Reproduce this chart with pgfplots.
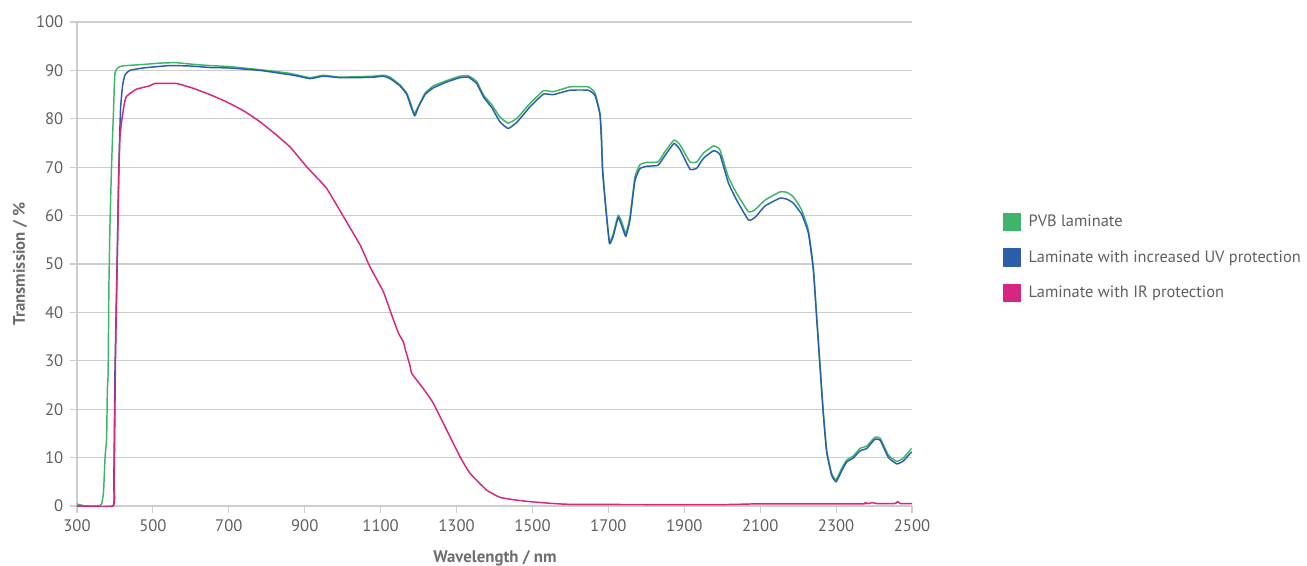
\documentclass[border=0pt]{standalone}
\usepackage{pgfplots}
\pgfplotsset{compat=1.18}
\usepackage{fontspec}
\setmainfont{PT Sans}

\definecolor{pvbgreen}{RGB}{61,181,107}
\definecolor{uvblue}{RGB}{43,94,170}
\definecolor{irpink}{RGB}{214,38,130}
\definecolor{txtgray}{RGB}{95,95,95}
\definecolor{lblgray}{RGB}{110,110,110}
\definecolor{gridgray}{RGB}{205,205,205}

\begin{document}
\begin{tikzpicture}
\path[use as bounding box] (-57.75pt,-44.25pt) rectangle (922.5pt,379.5pt);
\begin{axis}[
  at={(0,0)}, anchor=south west,
  scale only axis, width=626.25pt, height=363pt,
  xmin=300, xmax=2500, ymin=0, ymax=100,
  xtick={300,500,...,2500}, ytick={0,10,...,100},
  axis x line=bottom, axis y line=left,
  axis line style={draw=gridgray, line width=0.8pt, -},
  ymajorgrids, grid style={gridgray, line width=0.8pt},
  tick style={gridgray, line width=0.8pt}, tick align=outside,
  major tick length=5.25pt,
  ticklabel style={font=\fontsize{12.5}{15}\selectfont, text=txtgray},
  /pgf/number format/assume math mode=true,
  /pgf/number format/1000 sep={},
  xticklabel style={yshift=-1.5pt},
  yticklabel style={xshift=-1.5pt},
  xlabel={Wavelength / nm}, ylabel={Transmission / \%},
  label style={font=\bfseries\fontsize{12.6}{15}\selectfont, text=lblgray},
  xlabel style={at={(axis description cs:0.5006,-0.1085)}, anchor=center},
  ylabel style={at={(axis description cs:-0.0683,0.5)}, anchor=center},
  legend style={at={(axis description cs:1.1085,0.607)}, anchor=north west,
    draw=none, fill=none, font=\fontsize{12.3}{15}\selectfont, text=txtgray,
    row sep=12.5pt, inner sep=0pt,
    /tikz/every odd column/.append style={column sep=3.5pt}},
  legend cell align=left,
  legend image code/.code={\fill[#1] (0pt,-6.4pt) rectangle (12.8pt,6.4pt);},
  every axis plot/.append style={line width=1.1pt, line join=round, smooth, tension=0.25},
]
\addplot[color=pvbgreen] coordinates {
(300,0.4) (310,0.2) (320,0.05) (340,0.0) (360,0.1) (365,0.4) (370,3) (374,10.2)
(378,14) (380,24) (382,27.5) (384,45) (387,58.5) (391,70) (394,77) (396,81)
(398,86) (400,89.4) (405,90.3) (413,90.8) (430,91.0) (470,91.2) (518,91.5)
(560,91.6) (600,91.3) (650,91.0) (700,90.8) (750,90.4) (800,90.0) (860,89.4)
(914,88.5) (949,89.0) (993,88.6) (1037,88.7) (1080,88.8) (1107,89.0) (1125,88.6)
(1151,87.0) (1169,85.3) (1180,83) (1188,81.1) (1199,82.5) (1217,85.3) (1239,86.8)
(1274,87.9) (1309,88.8) (1331,88.9) (1353,87.7) (1371,84.9) (1393,82.9) (1414,80.4)
(1436,79.1) (1459,80.1) (1494,83.2) (1529,85.8) (1555,85.6) (1599,86.6) (1647,86.6)
(1665,85.3) (1678,81.1) (1682,75.6) (1685,69.4) (1694,61.2) (1703,54.6) (1713,56.3)
(1726,60.1) (1735,58.7) (1746,56.3) (1757,59.8) (1770,68.0) (1783,70.5) (1801,71.0)
(1831,71.1) (1849,73.2) (1873,75.6) (1889,74.6) (1915,71.1) (1933,71.1) (1950,72.9)
(1977,74.4) (1994,73.6) (2016,68.0) (2038,64.6) (2069,60.8) (2086,61.2) (2113,63.2)
(2152,64.9) (2170,64.8) (2187,63.9) (2209,61.2) (2227,57.0) (2240,49.4) (2249,39.1)
(2258,28.8) (2266,19.8) (2275,11.6) (2288,6.8) (2300,5.4) (2315,7.8) (2328,9.5)
(2345,10.3) (2363,11.9) (2381,12.4) (2402,14.2) (2416,14.0) (2438,10.5) (2460,9.2)
(2477,9.9) (2499,11.9)
};
\addlegendentry{PVB laminate}
\addplot[color=uvblue] coordinates {
(300,0) (394,0) (397,5) (400,27.5) (403,40) (406,51.5) (409,65) (411,72) (413,78)
(415,82.5) (420,86.8) (426,89) (439,90) (474,90.5) (545,91) (600,90.9) (650,90.6)
(700,90.5) (782,90) (870,89) (914,88.3) (949,88.8) (993,88.5) (1037,88.5) (1080,88.6)
(1107,88.8) (1125,88.3) (1151,86.8) (1169,85) (1180,82.5) (1190,80.6) (1199,82.3)
(1217,85.0) (1239,86.4) (1274,87.6) (1309,88.5) (1331,88.6) (1353,87.3) (1371,84.5)
(1393,82.3) (1414,79.4) (1436,78.0) (1459,79.3) (1494,82.5) (1529,85.1) (1555,85.0)
(1599,85.9) (1647,85.9) (1665,84.8) (1678,80.8) (1682,75.3) (1685,69.0) (1694,60.8)
(1703,54.2) (1713,55.8) (1726,59.6) (1735,58.0) (1746,55.7) (1757,59.2) (1770,67.2)
(1783,69.7) (1801,70.2) (1831,70.4) (1849,72.4) (1873,74.9) (1889,73.6) (1915,69.6)
(1933,69.8) (1950,71.8) (1977,73.4) (1994,72.6) (2016,66.8) (2038,63.2) (2069,59.1)
(2086,59.6) (2113,62.0) (2152,63.6) (2170,63.4) (2187,62.6) (2209,60.3) (2227,56.4)
(2240,48.8) (2249,38.6) (2258,28.3) (2266,19.3) (2275,11.2) (2288,6.4) (2300,5.0)
(2315,7.3) (2328,9.1) (2345,9.9) (2363,11.4) (2381,11.9) (2402,13.8) (2416,13.6)
(2438,10.0) (2460,8.7) (2477,9.3) (2499,11.2)
};
\addlegendentry{Laminate with increased UV protection}
\addplot[color=irpink] coordinates {
(300,0) (395,0) (398,5) (401,28) (404,42) (407,55) (410,68) (413,76) (418,79.7)
(424,82.8) (430,84.6) (456,86.1) (491,86.8) (505,87.3) (562,87.3) (606,86.3)
(650,85) (694,83.5) (740,81.6) (782,79.4) (820,77.0) (861,74.2) (905,70.1) (930,68)
(958,65.6) (1002,59.8) (1046,53.9) (1072,49.4) (1107,44.3) (1129,39.5) (1147,35.7)
(1160,33.9) (1164,32.6) (1177,29.1) (1182,27.4) (1212,24.3) (1239,21.2) (1274,15.7)
(1309,10.2) (1335,6.8) (1379,3.3) (1414,1.8) (1450,1.3) (1494,0.9) (1599,0.35)
(2000,0.3) (2100,0.45) (2370,0.45) (2376,0.7) (2385,0.5) (2395,0.7) (2408,0.5)
(2455,0.5) (2462,0.9) (2470,0.5) (2500,0.5)
};
\addlegendentry{Laminate with IR protection}
\end{axis}
\end{tikzpicture}
\end{document}
